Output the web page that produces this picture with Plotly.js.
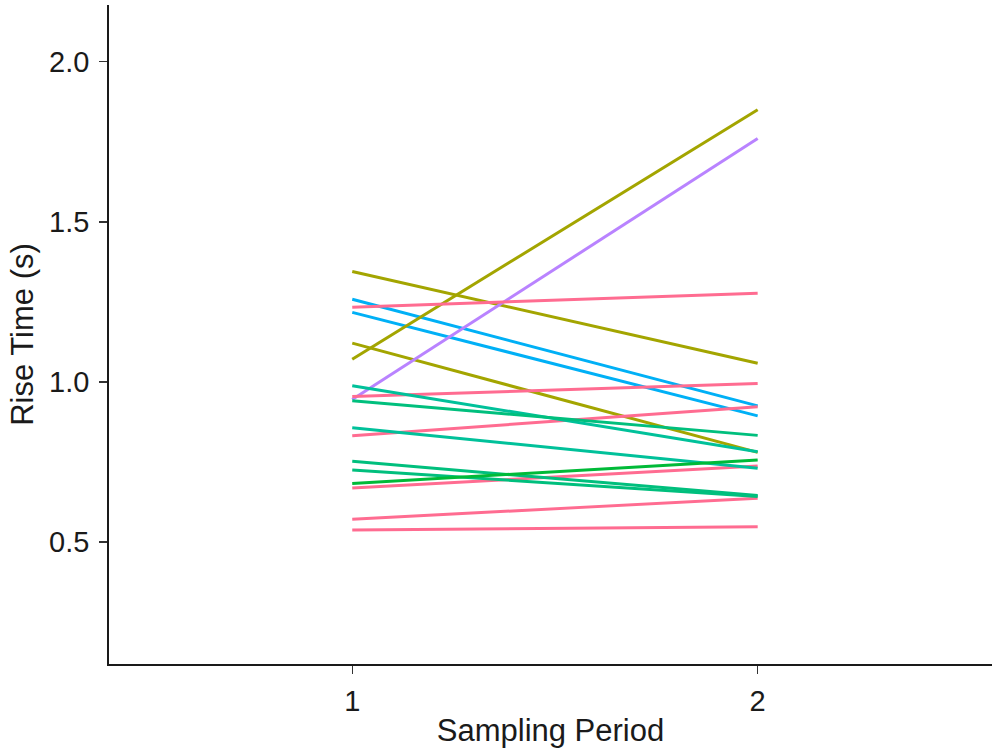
<!DOCTYPE html>
<html>
<head>
<meta charset="utf-8">
<script src="https://cdn.plot.ly/plotly-3.0.1.min.js"></script>
<style>html,body{margin:0;padding:0;background:#fff;}</style>
</head>
<body>
<div id="chart" style="width:992px;height:755px;"></div>
<script>
// Sampling periods (x categories)
const periods = [1, 2];
// Rise time (s) per subject at period 1 and period 2
const riseP1 = [1.345, 1.258, 1.217, 1.121, 1.071, 0.945, 1.233, 0.954, 0.832, 0.669, 0.571, 0.5375, 0.988, 0.941, 0.857, 0.752, 0.725, 0.683];
const riseP2 = [1.058, 0.925, 0.894, 0.780, 1.850, 1.760, 1.277, 0.995, 0.922, 0.737, 0.637, 0.548, 0.782, 0.833, 0.730, 0.645, 0.642, 0.756];
// Group of each subject (controls colour)
const groups = ["olive","blue","blue","olive","olive","purple","pink","pink","pink","pink","pink","pink","teal","green","teal","green","green","dkgreen"];
const groupColours = {olive:"#A3A500", blue:"#00B0F6", purple:"#B983FF", pink:"#FF6C91", teal:"#00C19A", green:"#00BF7D", dkgreen:"#00BA38"};

const traces = riseP1.map((v, i) => ({
  x: periods,
  y: [v, riseP2[i]],
  type: "scatter",
  mode: "lines",
  line: {color: groupColours[groups[i]], width: 3},
  hoverinfo: "skip",
  showlegend: false
}));

const layout = {
  width: 992, height: 755,
  margin: {l: 109, r: 0, t: 5, b: 91},
  paper_bgcolor: "#fff", plot_bgcolor: "#fff",
  font: {family: "Liberation Sans, Arial, sans-serif", color: "#1a1a1a"},
  showlegend: false,
  xaxis: {
    range: [0.4, 2.578],
    tickvals: [1, 2], ticktext: ["1", "2"],
    showgrid: false, zeroline: false,
    showline: true, linecolor: "#1a1a1a", linewidth: 1.8,
    ticks: "outside", ticklen: 8, tickcolor: "#333", tickwidth: 1.5,
    ticklabelstandoff: 2,
    tickfont: {size: 29, color: "#1a1a1a"},
    title: {text: "Sampling Period", font: {size: 31, color: "#1a1a1a"}, standoff: 4}
  },
  yaxis: {
    range: [0.119, 2.177],
    tickvals: [0.5, 1.0, 1.5, 2.0], ticktext: ["0.5", "1.0", "1.5", "2.0"],
    showgrid: false, zeroline: false,
    showline: true, linecolor: "#1a1a1a", linewidth: 1.8,
    ticks: "outside", ticklen: 8, tickcolor: "#333", tickwidth: 1.5,
    ticklabelstandoff: 4,
    tickfont: {size: 29, color: "#1a1a1a"},
    title: {text: "Rise Time (s)", font: {size: 31, color: "#1a1a1a"}, standoff: 6}
  }
};

Plotly.newPlot("chart", traces, layout, {displayModeBar: false, staticPlot: true});
</script>
</body>
</html>
